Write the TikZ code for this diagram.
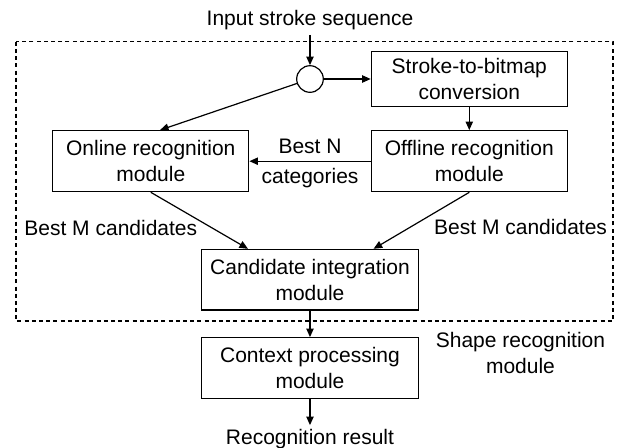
\documentclass[tikz,border=0pt]{standalone}
\usepackage{fontspec}
\setmainfont{Liberation Sans}
\usetikzlibrary{positioning,arrows.meta}
\begin{document}
\begin{tikzpicture}[line width=0.6pt, >={Triangle[length=4.3pt, width=3.7pt]}, font={\fontsize{10.5pt}{13pt}\selectfont}, block/.style={rectangle, draw, align=center, inner sep=2pt, minimum width=98pt, minimum height=30.5pt}, widebox/.style={block, minimum width=108.6pt, minimum height=30.3pt}, junction/.style={circle, draw, inner sep=0pt, minimum size=13.3pt}, plain/.style={inner sep=2pt}, frame/.style={dashed, dash pattern=on 2pt off 1.6pt, line width=0.65pt}]
  \useasboundingbox (-155pt,39.5pt) rectangle (154pt,-184pt);
  \node[junction] (junc) {};
  \node[plain, above of=junc, node distance=29.25pt] (strokein) {Input stroke sequence};
  \node[block, right of=junc, node distance=79.65pt, minimum height=27.5pt] (bitmap) {Stroke-to-bitmap\\conversion};
  \node[block, below of=bitmap, node distance=41.1pt] (offline) {Offline recognition\\module};
  \node[block, left of=offline, node distance=159.25pt] (online) {Online recognition\\module};
  \node[widebox, below of=junc, node distance=100.35pt] (integ) {Candidate integration\\module};
  \node[widebox, below of=integ, node distance=44.15pt] (context) {Context processing\\module};
  \node[plain, below of=context, node distance=35.75pt] (result) {Recognition result};

  \coordinate (frameNW) at (-147pt,18.65pt);
  \coordinate (frameSE) at (151.5pt,-121pt);
  \draw[frame] (frameNW) rectangle (frameSE);
  \node[plain, align=center, right of=context, node distance=105.25pt, yshift=7.5pt] (shapelabel) {Shape recognition\\module};

  \draw[->] (strokein) -- (junc);
  \draw[->] (junc) -- (bitmap);
  \draw[->] (junc) -- ([xshift=4.6pt]online.north);
  \draw[->] (bitmap) -- (offline);
  \draw[->] (offline) -- node[above] {Best N} node[below] {categories} (online);
  \draw[->] (online.south) -- node[left, pos=0.63, xshift=-3.8pt] {Best M candidates} ([xshift=-31pt]integ.north);
  \draw[->] (offline.south) -- node[right, pos=0.62, xshift=8.5pt] {Best M candidates} ([xshift=31.8pt]integ.north);
  \draw[->] (integ) -- (context);
  \draw[->] (context) -- (result);

\end{tikzpicture}
\end{document}
